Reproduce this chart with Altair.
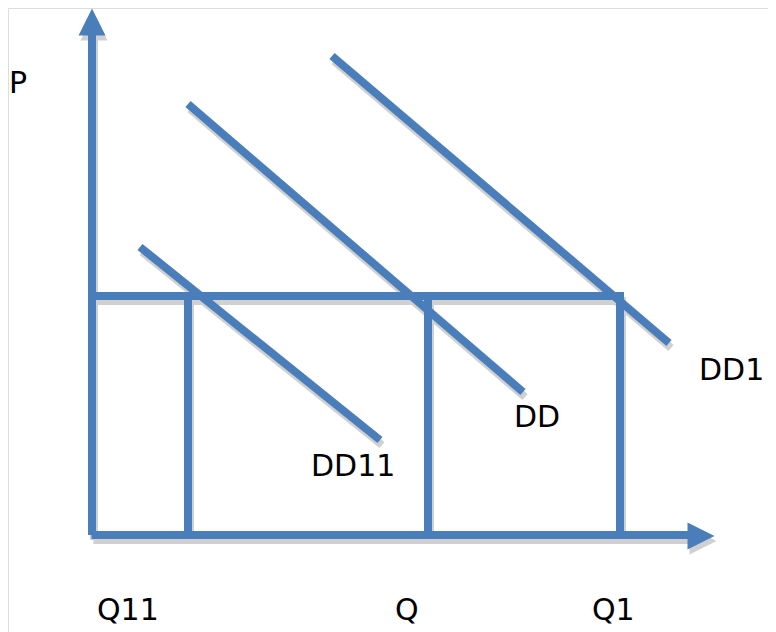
import altair as alt
import pandas as pd

# Diagram coordinates: origin at the axes' intersection (quantity right, price up)
P0 = 239                      # price level of the horizontal line
Q_levels = {"Q11": 96, "Q": 336, "Q1": 528}

# demand curves: start (x, y) -> end (x, y)
curve_names = ["DD1", "DD", "DD11"]
curve_x1 = [240, 96, 48]
curve_y1 = [479, 431, 288]
curve_x2 = [577, 431, 288]
curve_y2 = [192, 143, 95]

# axes
yaxis_top = 500
xaxis_right = 597
arrow_up = (0, 513)
arrow_right = (609, -1)

# labels
label_text = ["P", "DD1", "DD", "DD11", "Q11", "Q", "Q1"]
label_x = [-83, 607, 422, 219, 5, 303, 500]
label_y = [442, 155, 108, 59, -85, -85, -85]

BLUE = "#4a7ebb"
SHADOW = "#d0d0d0"

segs = []
segs.append(dict(x=0, y=0, x2=0, y2=yaxis_top))
segs.append(dict(x=-0.5, y=0, x2=xaxis_right, y2=0))
segs.append(dict(x=0, y=P0, x2=Q_levels["Q1"] + 4, y2=P0))
for q in Q_levels.values():
    segs.append(dict(x=q, y=0, x2=q, y2=P0 + 4))
for n, a, b, c, d in zip(curve_names, curve_x1, curve_y1, curve_x2, curve_y2):
    segs.append(dict(x=a, y=b, x2=c, y2=d))
seg_df = pd.DataFrame(segs)

arrows = pd.DataFrame([
    dict(x=arrow_up[0], y=arrow_up[1], shape="M0,-1L1,1L-1,1Z"),
    dict(x=arrow_right[0], y=arrow_right[1], shape="M1,0L-1,1L-1,-1Z"),
])
labels = pd.DataFrame(dict(t=label_text, x=label_x, y=label_y))

xs = alt.Scale(domain=[-84, 676], nice=False, zero=False)
ys = alt.Scale(domain=[-97, 527], nice=False, zero=False)

def enc_seg():
    return dict(
        x=alt.X("x:Q", scale=xs, axis=None),
        y=alt.Y("y:Q", scale=ys, axis=None),
        x2="x2:Q",
        y2="y2:Q",
    )

shadow = alt.Chart(seg_df).mark_rule(
    color=SHADOW, strokeWidth=8, xOffset=2, x2Offset=2, yOffset=5, y2Offset=5
).encode(**enc_seg())
main = alt.Chart(seg_df).mark_rule(color=BLUE, strokeWidth=8).encode(**enc_seg())

def arrow_layer(color, dx, dy):
    return alt.Chart(arrows).mark_point(
        filled=True, opacity=1, color=color, size=729, strokeWidth=0,
        xOffset=dx, yOffset=dy,
    ).encode(
        x=alt.X("x:Q", scale=xs, axis=None),
        y=alt.Y("y:Q", scale=ys, axis=None),
        shape=alt.Shape("shape:N", scale=None, legend=None),
    )

text = alt.Chart(labels).mark_text(
    font="DejaVu Sans", fontSize=30, color="black", align="left", baseline="alphabetic"
).encode(
    x=alt.X("x:Q", scale=xs, axis=None),
    y=alt.Y("y:Q", scale=ys, axis=None),
    text="t:N",
)

chart = alt.layer(
    shadow, arrow_layer(SHADOW, 2, 5), main, arrow_layer(BLUE, 0, 0), text
).properties(
    width=760, height=624, padding=0, autosize=alt.AutoSizeParams(type="none")
).configure_view(stroke=None).configure(background="white")

chart.save("out.html", embed_options={"renderer": "svg", "actions": False})
